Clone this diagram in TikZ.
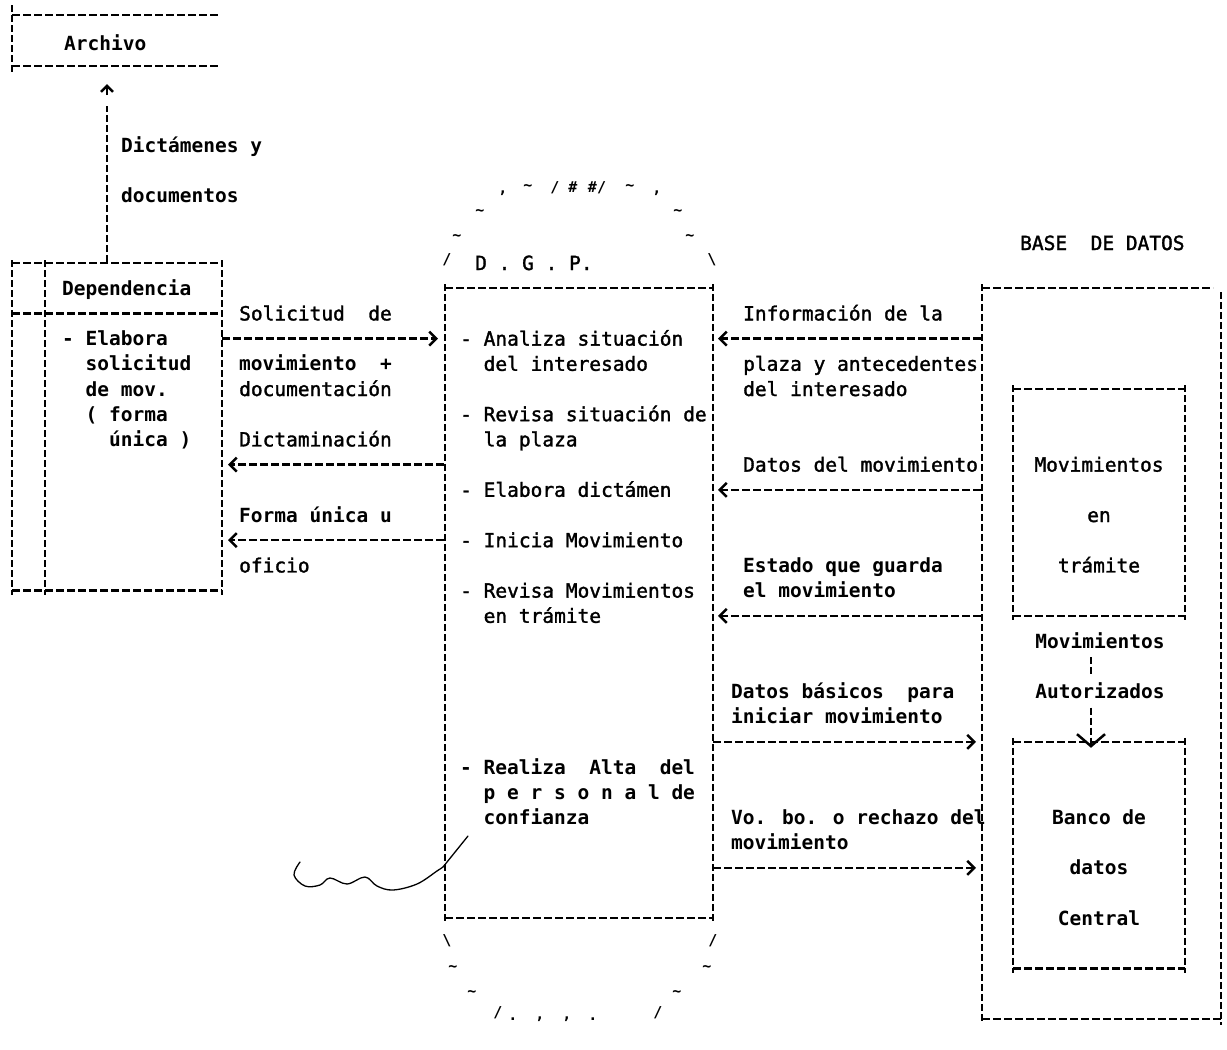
\documentclass[tikz,border=0pt]{standalone}
\usepackage{fontspec}
\newfontfamily\dm{DejaVu Sans Mono}
\newfontface\dmr[FakeBold=1.6]{DejaVu Sans Mono}
\usetikzlibrary{arrows.meta}
\newcommand\ry[1]{263+25.2*(#1)}
\newcommand\rb[1]{270+25.2*(#1)}
\tikzset{
  hl/.style={line width=2.5pt,dash pattern=on 8pt off 3pt},
  vl/.style={line width=2.5pt,dash pattern=on 7pt off 3pt},
  rtip/.style={-{Straight Barb[length=7pt,width=14pt]}},
  tx/.style={inner sep=0pt,anchor=base west,font=\dmr\fontsize{19.5}{23}\selectfont},
  tb/.style={tx,font=\dm\bfseries\fontsize{19.5}{23}\selectfont},
  ctx/.style={tx,anchor=base},
  ctb/.style={tb,anchor=base},
  orn/.style={inner sep=0pt,font=\dm\bfseries\fontsize{15}{18}\selectfont},
}
\begin{document}
\begin{tikzpicture}[x=1pt,y=-1pt]
\useasboundingbox[fill=white] (0,0) rectangle (1227,1050);

% ---------------- Archivo
\coordinate (a1) at (12,5); \coordinate (a2) at (12,72);
\draw[vl] (a1) -- (a2);
\coordinate (at1) at (12,15); \coordinate (at2) at (218,15);
\draw[hl] (at1) -- (at2);
\coordinate (ab1) at (12,66); \coordinate (ab2) at (218,66);
\draw[hl] (ab1) -- (ab2);
\node[tb] (archivo) at (64,50) {Archivo};

\coordinate (upS) at (107,262);
\coordinate (upM) at (107,106);
\coordinate (upT) at (107,95);
\coordinate (upE) at (107,84);
\draw[vl] (upS) -- (upM);
\draw[line width=2.5pt,-{Straight Barb[length=6pt,width=12pt]}] (upT) -- (upE);
\node[tb] (dict1) at (121,152) {Dictámenes y};
\node[tb] (dict2) at (121,202) {documentos};

% ---------------- Dependencia
\foreach \x/\n in {12/d1,45/d2,222/d3}{
  \coordinate (\n t) at (\x,{\ry{0}-3});
  \coordinate (\n b) at (\x,{\ry{13}+4});
  \draw[vl] (\n t) -- (\n b);
}
\foreach \r/\n in {0/h0,2/h2,13/h13}{
  \coordinate (\n l) at (12,{\ry{\r}});
  \coordinate (\n r) at (222,{\ry{\r}});
  \draw[hl] (\n l) -- (\n r);
}
\node[tb] (dep) at (62,{\rb{1}}) {Dependencia};
\node[tb] (el1) at (62,{\rb{3}}) {- Elabora};
\node[tb] (el2) at (62,{\rb{4}}) {\ \ solicitud};
\node[tb] (el3) at (62,{\rb{5}}) {\ \ de mov.};
\node[tb] (el4) at (62,{\rb{6}}) {\ \ ( forma};
\node[tb] (el5) at (62,{\rb{7}}) {\ \ \ \ única )};

% texts between Dependencia and DGP
\node[tx] (sol1) at (239,{\rb{2}}) {Solicitud\ \ de};
\node[tb] (sol2) at (239,{\rb{4}}) {movimiento\ \ +};
\node[tx] (sol3) at (239,{\rb{5}}) {documentación};
\node[tx] (dic) at (239,{\rb{7}}) {Dictaminación};
\node[tb] (fu1) at (239,{\rb{10}}) {Forma única u};
\node[tx] (fu2) at (239,{\rb{12}}) {oficio};

\coordinate (l3a) at (222,{\ry{3}}); \coordinate (l3b) at (438,{\ry{3}});
\draw[hl,rtip] (l3a) -- (l3b);
\coordinate (l8a) at (444,{\ry{8}}); \coordinate (l8b) at (228,{\ry{8}});
\draw[hl,rtip] (l8a) -- (l8b);
\coordinate (l11a) at (444,{\ry{11}}); \coordinate (l11b) at (228,{\ry{11}});
\draw[hl,rtip] (l11a) -- (l11b);

% ---------------- D.G.P.
\foreach \x/\n in {445/g1,713/g2}{
  \coordinate (\n t) at (\x,{\ry{1}-4});
  \coordinate (\n b) at (\x,{\ry{26}+6});
  \draw[vl] (\n t) -- (\n b);
}
\foreach \r/\n in {1/gh1,26/gh26}{
  \coordinate (\n l) at (445,{\ry{\r}});
  \coordinate (\n r) at (713,{\ry{\r}});
  \draw[hl] (\n l) -- (\n r);
}
\node[tx] (dgp) at (475,{\rb{0}}) {D . G . P.};
% ornaments of the ellipse
\node[orn] (o1) at (447,{\ry{0}-3}) {/};
\node[orn] (o2) at (712,{\ry{0}-3}) {\textbackslash};
\node[orn] (o3) at (457,{\ry{-1}}) {\textasciitilde};
\node[orn] (o4) at (690,{\ry{-1}}) {\textasciitilde};
\node[orn] (o5) at (480,{\ry{-2}}) {\textasciitilde};
\node[orn] (o6) at (678,{\ry{-2}}) {\textasciitilde};
\node[orn] (o7) at (503,{\ry{-3}+6}) {,};
\node[orn] (o8) at (528,{\ry{-3}}) {\textasciitilde};
\node[orn] (o9) at (555,{\ry{-3}}) {/};
\node[orn] (o10) at (573,{\ry{-3}}) {\#};
\node[orn] (o11) at (597,{\ry{-3}}) {\#/};
\node[orn] (o12) at (630,{\ry{-3}}) {\textasciitilde};
\node[orn] (o13) at (657,{\ry{-3}+6}) {,};
\node[orn] (b1) at (447,{\ry{27}-3}) {\textbackslash};
\node[orn] (b2) at (713,{\ry{27}-3}) {/};
\node[orn] (b3) at (453,{\ry{28}}) {\textasciitilde};
\node[orn] (b4) at (707,{\ry{28}}) {\textasciitilde};
\node[orn] (b5) at (472,{\ry{29}}) {\textasciitilde};
\node[orn] (b6) at (677,{\ry{29}}) {\textasciitilde};
\node[orn] (b7) at (498,{\ry{30}-6}) {/};
\node[orn] (b8) at (513,{\ry{30}}) {.};
\node[orn] (b9) at (540,{\ry{30}}) {,};
\node[orn] (b10) at (567,{\ry{30}}) {,};
\node[orn] (b11) at (593,{\ry{30}}) {.};
\node[orn] (b12) at (658,{\ry{30}-6}) {/};

\node[tx] (g3) at (460,{\rb{3}}) {- Analiza situación};
\node[tx] (g4) at (460,{\rb{4}}) {\ \ del interesado};
\node[tx] (g6) at (460,{\rb{6}}) {- Revisa situación de};
\node[tx] (g7) at (460,{\rb{7}}) {\ \ la plaza};
\node[tx] (g9) at (460,{\rb{9}}) {- Elabora dictámen};
\node[tx] (g11) at (460,{\rb{11}}) {- Inicia Movimiento};
\node[tx] (g13) at (460,{\rb{13}}) {- Revisa Movimientos};
\node[tx] (g14) at (460,{\rb{14}}) {\ \ en trámite};
\node[tb] (g20) at (460,{\rb{20}}) {- Realiza\ \ Alta\ \ del};
\node[tb] (g21) at (460,{\rb{21}}) {\ \ p e r s o n a l de};
\node[tb] (g22) at (460,{\rb{22}}) {\ \ confianza};

% hand-drawn squiggle
\coordinate (sq0) at (300,862);
\coordinate (sqE) at (443,867);
\coordinate (sqT) at (468,836);
\draw[line width=1.3pt,line cap=round] plot[smooth,tension=0.6] coordinates
 {(sq0) (294,875) (305,886) (320,885) (330,878) (347,884) (365,877) (377,886) (393,890) (417,884) (437,871) (sqE)};
\draw[line width=1.3pt,line cap=round] (sqE) -- (sqT);

% ---------------- texts between DGP and BD
\node[tx] (r2) at (743,{\rb{2}}) {Información de la};
\node[tx] (r4) at (743,{\rb{4}}) {plaza y antecedentes};
\node[tx] (r5) at (743,{\rb{5}}) {del interesado};
\node[tx] (r8) at (743,{\rb{8}}) {Datos del movimiento};
\node[tb] (r12) at (743,{\rb{12}}) {Estado que guarda};
\node[tb] (r13) at (743,{\rb{13}}) {el movimiento};
\node[tb] (r17) at (731,{\rb{17}}) {Datos básicos\ \ para};
\node[tb] (r18) at (731,{\rb{18}}) {iniciar movimiento};
\node[tb] (r22) at (731,{\rb{22}}) {Vo. bo. o rechazo del};
\node[tb] (r23) at (731,{\rb{23}}) {movimiento};

\foreach \r in {3,9,14}{
  \coordinate (ra\r) at (981,{\ry{\r}});
  \coordinate (rb\r) at (718,{\ry{\r}});
  \draw[hl,rtip] (ra\r) -- (rb\r);
}
\foreach \r in {19,24}{
  \coordinate (rc\r) at (713,{\ry{\r}});
  \coordinate (rd\r) at (976,{\ry{\r}});
  \draw[hl,rtip] (rc\r) -- (rd\r);
}

% ---------------- Base de datos
\node[tx] (bd) at (1020,250) {BASE\ \ DE DATOS};
\coordinate (bo1) at (982,{\ry{1}-4}); \coordinate (bo2) at (982,1022);
\draw[vl] (bo1) -- (bo2);
\coordinate (bo3) at (1221,{\ry{1}+4}); \coordinate (bo4) at (1221,1025);
\draw[vl] (bo3) -- (bo4);
\coordinate (bo5) at (982,{\ry{1}}); \coordinate (bo6) at (1213,{\ry{1}});
\draw[hl] (bo5) -- (bo6);
\coordinate (bo7) at (982,1019); \coordinate (bo8) at (1222,1019);
\draw[hl] (bo7) -- (bo8);

% Movimientos en tramite box
\foreach \x/\n in {1013/m1,1185/m2}{
  \coordinate (\n t) at (\x,{\ry{5}-4});
  \coordinate (\n b) at (\x,{\ry{14}+4});
  \draw[vl] (\n t) -- (\n b);
}
\coordinate (mt1) at (1013,{\ry{5}}); \coordinate (mt2) at (1185,{\ry{5}});
\draw[hl] (mt1) -- (mt2);
\coordinate (mb1) at (1013,{\ry{14}}); \coordinate (mb2) at (1185,{\ry{14}});
\draw[hl] (mb1) -- (mb2);
\node[ctx] (mv1) at (1099,{\rb{8}}) {Movimientos};
\node[ctx] (mv2) at (1099,{\rb{10}}) {en};
\node[ctx] (mv3) at (1099,{\rb{12}}) {trámite};

\node[ctb] (ma1) at (1100,{\rb{15}}) {Movimientos};
\node[ctb] (ma2) at (1100,{\rb{17}}) {Autorizados};
\coordinate (va1) at (1091,{\ry{16}-9}); \coordinate (va2) at (1091,{\ry{16}+9});
\draw[vl] (va1) -- (va2);
\coordinate (vb1) at (1091,{\ry{18}-9}); \coordinate (vb2) at (1091,{\ry{19}+6});
\draw[vl,-{Straight Barb[length=12pt,width=28pt]}] (vb1) -- (vb2);

% Banco de datos box
\foreach \x/\n in {1013/k1,1185/k2}{
  \coordinate (\n t) at (\x,{\ry{19}-4});
  \coordinate (\n b) at (\x,{\ry{28}+4});
  \draw[vl] (\n t) -- (\n b);
}
\coordinate (kt1) at (1013,{\ry{19}}); \coordinate (kt2) at (1185,{\ry{19}});
\draw[hl] (kt1) -- (kt2);
\coordinate (kb1) at (1013,{\ry{28}}); \coordinate (kb2) at (1185,{\ry{28}});
\draw[hl] (kb1) -- (kb2);
\node[ctb] (bc1) at (1099,{\rb{22}}) {Banco de};
\node[ctb] (bc2) at (1099,{\rb{24}}) {datos};
\node[ctb] (bc3) at (1099,{\rb{26}}) {Central};
\end{tikzpicture}
\end{document}
